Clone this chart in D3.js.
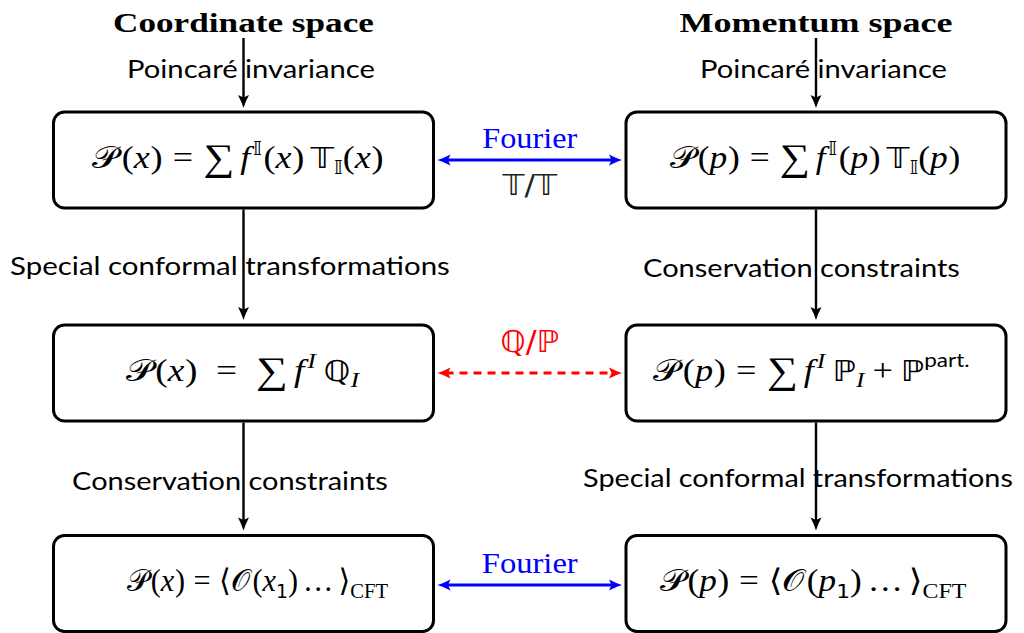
<!DOCTYPE html>
<html><head><meta charset="utf-8">
<script src="https://cdn.jsdelivr.net/npm/d3@7"></script>
<style>body{margin:0;background:#fff}</style>
</head><body><svg id="c" width="1024" height="633"></svg>
<script>
// ---------- data ----------
const columns = ["Coordinate space", "Momentum space"];
const rows = ["tensor", "form factor", "cft"];
const entryLabels = ["Poincaré invariance", "Poincaré invariance"];
const stepLabels = [
  ["Special conformal transformations", "Conservation constraints"],
  ["Conservation constraints", "Special conformal transformations"]
];
const linkTop = ["Fourier", "ℚ/ℙ", "Fourier"];
const linkBottom = ["𝕋/𝕋", "", ""];
const linkKind = ["solid", "dashed", "solid"];
const linkColor = ["#0000ff", "#ff0000", "#0000ff"];
// formula markup: [text, kind, space before (em)]
const formulasX = [
  [["𝒫","cal",0],["(","rm",0.07],["x","it",0],[")","rm",0.02],["=","rm",0.28],["∑","op",0.28],["f","it",0.17],["𝕀","sup",0.08],["(","rm",0.04],["x","it",0],[")","rm",0.02],["𝕋","bb",0.17],["𝕀","sub",0],["(","rm",0],["x","it",0],[")","rm",0.02]],
  [["𝒫","cal",0],["(","rm",0.07],["x","it",0],[")","rm",0.02],["=","rm",0.5],["∑","op",0.5],["f","it",0.17],["I","supit",0.08],["ℚ","bb",0.2],["I","subit",0]],
  [["𝒫","cal",0],["(","rm",0.07],["x","it",0],[")","rm",0.02],["=","rm",0.28],["⟨","ang",0.28],["𝒪","cal",0],["(","rm",0.06],["x","it",0],["1","sub",0],[")","rm",0],["…","rm",0.17],["⟩","ang",0.17],["CFT","subrm",0]]
];
const formulasP = [
  [["𝒫","cal",0],["(","rm",0.07],["p","it",0],[")","rm",0.02],["=","rm",0.28],["∑","op",0.28],["f","it",0.17],["𝕀","sup",0.08],["(","rm",0.04],["p","it",0],[")","rm",0.02],["𝕋","bb",0.17],["𝕀","sub",0],["(","rm",0],["p","it",0],[")","rm",0.02]],
  [["𝒫","cal",0],["(","rm",0.07],["p","it",0],[")","rm",0.02],["=","rm",0.28],["∑","op",0.28],["f","it",0.17],["I","supit",0.08],["ℙ","bb",0.2],["I","subit",0],["+","rm",0.22],["ℙ","bb",0.22],["part.","supsans",0]],
  [["𝒫","cal",0],["(","rm",0.07],["p","it",0],[")","rm",0.02],["=","rm",0.28],["⟨","ang",0.28],["𝒪","cal",0],["(","rm",0.06],["p","it",0],["1","sub",0],[")","rm",0],["…","rm",0.17],["⟩","ang",0.17],["CFT","subrm",0]]
];

// ---------- layout ----------
const svg = d3.select("#c");
const x = d3.scaleOrdinal().domain(columns).range([243.5, 816]);
const y = d3.scaleOrdinal().domain(rows).range([160, 373, 583.5]);
const BW = 380, BH = 96;
const SERIF = "'Liberation Serif', 'DejaVu Serif', serif";
const SANS = "Lato, 'Liberation Sans', sans-serif";
const BB = "'DejaVu Sans', 'DejaVu Serif', 'Noto Sans', sans-serif";
const CAL = "'DejaVu Serif', 'DejaVu Sans', 'Noto Sans', serif";
const FS = 31;

function fitText(sel, w) {
  const bb = sel.node().getBBox();
  const k = w / bb.width;
  const cx = bb.x + bb.width / 2;
  sel.attr("transform", `translate(${cx},0) scale(${k},1) translate(${-cx},0)`);
}

function arrowHead(g, tx, ty, angle, color) {
  g.append("path")
    .attr("d", "M0,0 Q-6,-1.8 -13,-5.5 L-10.5,0 L-13,5.5 Q-6,1.8 0,0 Z")
    .attr("fill", color)
    .attr("transform", `translate(${tx},${ty}) rotate(${angle})`);
}

// headers
const headerW = [261, 273];
columns.forEach((c, i) => {
  const t = svg.append("text").attr("x", x(c)).attr("y", 32)
    .attr("text-anchor", "middle").attr("font-family", SERIF)
    .attr("font-weight", "bold").attr("font-size", 27).attr("fill", "#000").text(c);
  fitText(t, headerW[i]);
});

// boxes
columns.forEach(c => rows.forEach(r => {
  svg.append("rect").attr("x", x(c) - BW / 2).attr("y", y(r) - BH / 2)
    .attr("width", BW).attr("height", BH).attr("rx", 11)
    .attr("fill", "none").attr("stroke", "#000").attr("stroke-width", 3);
}));

// vertical arrows
const g = svg.append("g");
columns.forEach(c => {
  const cx = x(c);
  const segs = [[38, y(rows[0]) - BH / 2 - 4]];
  for (let i = 0; i < rows.length - 1; i++)
    segs.push([y(rows[i]) + BH / 2 + 1.5, y(rows[i + 1]) - BH / 2 - 5]);
  segs.forEach(([a, b]) => {
    g.append("line").attr("x1", cx).attr("x2", cx).attr("y1", a).attr("y2", b - 8)
      .attr("stroke", "#000").attr("stroke-width", 2.4);
    arrowHead(g, cx, b, 90, "#000");
  });
});

// sans labels on vertical arrows
function sansLabel(txt, x0, x1, base) {
  const t = svg.append("text").attr("x", (x0 + x1) / 2).attr("y", base)
    .attr("text-anchor", "middle").attr("font-family", SANS).attr("font-size", 25)
    .attr("fill", "#000").text(txt);
  fitText(t, x1 - x0);
}
const entrySpan = [[127, 375], [700, 947]];
entryLabels.forEach((l, i) => sansLabel(l, entrySpan[i][0], entrySpan[i][1], 78));
const stepSpan = [[[10, 450, 275], [72, 388, 490]], [[643, 960, 277], [583, 1013, 487]]];
stepLabels.forEach((col, i) => col.forEach((l, j) => sansLabel(l, ...stepSpan[i][j])));

// horizontal links
const linkY = [160, 373, 585];
const topBase = [148, 352, 573];
const topW = [95, 59, 96];
const x0 = x(columns[0]) + BW / 2 + 4, x1 = x(columns[1]) - BW / 2 - 4;
rows.forEach((r, i) => {
  const ly = linkY[i], col = linkColor[i];
  const ln = g.append("line").attr("x1", x0 + 8).attr("x2", x1 - 8).attr("y1", ly).attr("y2", ly)
    .attr("stroke", col).attr("stroke-width", 2.8);
  if (linkKind[i] === "dashed") ln.attr("stroke-dasharray", "8,6");
  arrowHead(g, x0, ly, 180, col);
  arrowHead(g, x1, ly, 0, col);
  const t = svg.append("text").attr("x", (x0 + x1) / 2).attr("y", topBase[i])
    .attr("text-anchor", "middle").attr("font-family", linkTop[i] === "Fourier" ? SERIF : BB)
    .attr("font-size", 30).attr("fill", col).text(linkTop[i]);
  fitText(t, topW[i]);
  if (linkBottom[i]) {
    const b = svg.append("text").attr("x", (x0 + x1) / 2).attr("y", ly + 35)
      .attr("text-anchor", "middle").attr("font-family", BB)
      .attr("font-size", 28).attr("fill", "#222").text(linkBottom[i]);
    fitText(b, 56);
  }
});

// formulas
const kinds = {
  rm:    {fam: SERIF, size: 1, off: 0},
  ang:   {fam: BB, size: 1, off: 0},
  it:    {fam: SERIF, size: 1, off: 0, style: "italic"},
  cal:   {fam: CAL, size: 1, off: 0, style: "normal"},
  op:    {fam: SERIF, size: 1.2, off: 0.06},
  bb:    {fam: BB, size: 0.92, off: 0},
  sup:   {fam: BB, size: 0.64, off: -0.42},
  supit: {fam: SERIF, size: 0.7, off: -0.42, style: "italic"},
  supsans:{fam: SANS, size: 0.62, off: -0.44},
  sub:   {fam: BB, size: 0.62, off: 0.2},
  subit: {fam: SERIF, size: 0.7, off: 0.2, style: "italic"},
  subrm: {fam: SERIF, size: 0.68, off: 0.22}
};
const formulaFit = [[[238, 290], [242.5, 235], [257.5, 261]], [[815, 290], [811.5, 315], [813, 307]]];
[formulasX, formulasP].forEach((fs, ci) => fs.forEach((segs, ri) => {
  const base = y(rows[ri]) + 8;
  const t = svg.append("text").attr("x", formulaFit[ci][ri][0]).attr("y", base)
    .attr("text-anchor", "middle").attr("font-size", FS).attr("fill", "#000");
  let cur = 0;
  segs.forEach(([txt, k, sp]) => {
    const s = kinds[k];
    const off = s.off * FS;
    t.append("tspan").attr("dy", off - cur).attr("dx", sp * FS).attr("font-family", s.fam)
      .attr("font-size", FS * s.size).attr("font-style", s.style || "normal").text(txt);
    cur = off;
  });
  fitText(t, formulaFit[ci][ri][1]);
}));
</script></body></html>
